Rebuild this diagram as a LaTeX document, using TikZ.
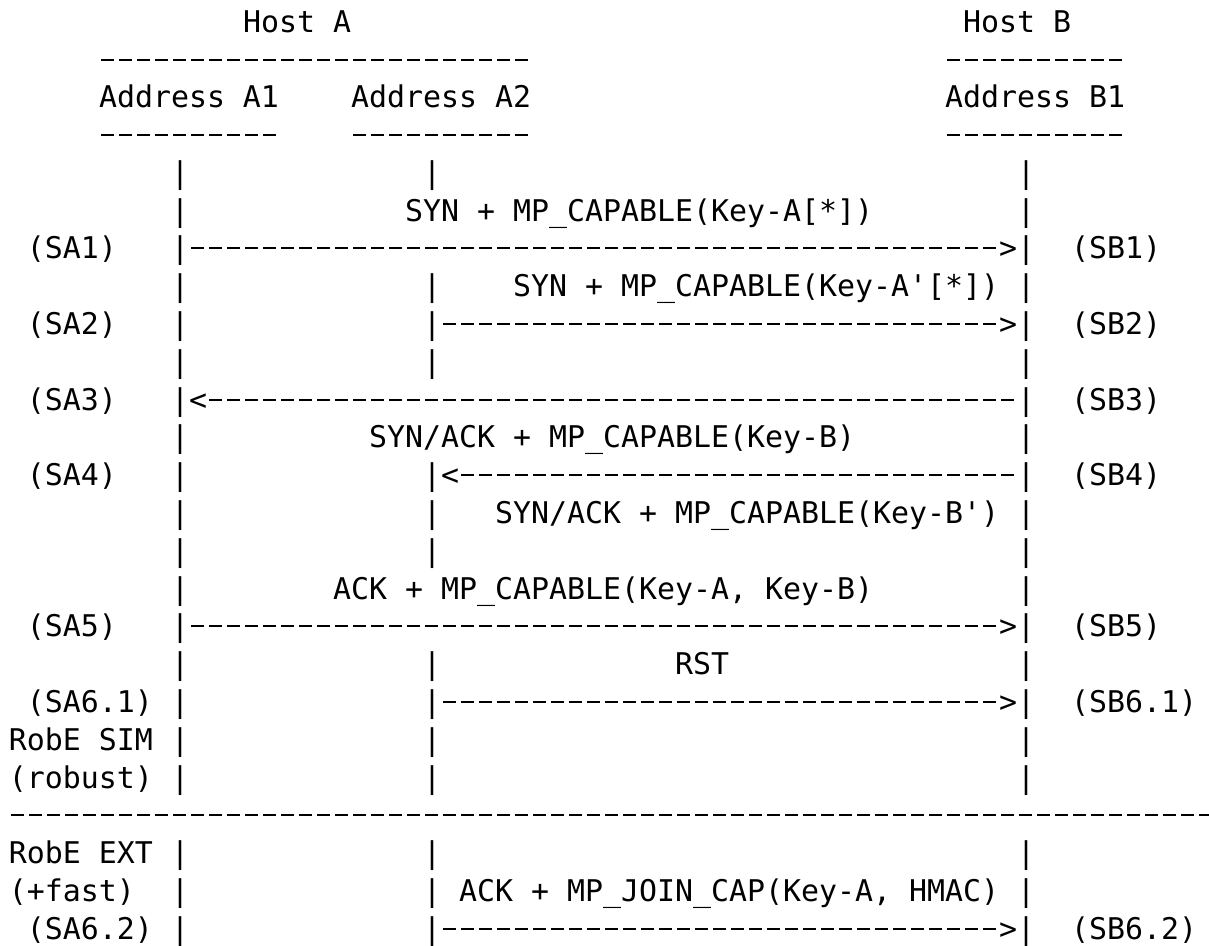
\documentclass[tikz,border=0pt]{standalone}
\usepackage{fontspec}
\newfontfamily\djm{DejaVu Sans Mono}
\newcommand\T[4]{\node[tx] (#1) at ({9+18*(#2)},{32+37.8*(#3-1)}) {#4};}
\newcommand\Bars[2]{\T{a1r#1}{9}{#1}{|}\ifnum#2=1 \T{a2r#1}{23}{#1}{|}\fi\T{br#1}{56}{#1}{|}}
% dashed rule of ASCII dashes, from cell boundary to cell boundary (#3 = y in px)
\newcommand\Rule[3]{\draw[dsh] ({9+18*(#1)},#3) -- ({9+18*(#2)},#3);}
\tikzset{
  tx/.style={anchor=base west, inner sep=0pt, outer sep=0pt, text=black,
    font=\djm\fontsize{29.9}{37.8}\selectfont},
  dsh/.style={draw=black, line width=2pt, dash pattern=on 13pt off 5pt, dash phase=16pt},
}
\begin{document}
\begin{tikzpicture}[x=1pt,y=-1pt]
\fill[white] (0,0) rectangle (1209,945);
\useasboundingbox (0,0) rectangle (1209,945);
\clip (0,0) rectangle (1209,945);
% header
\T{hostA}{13}{1}{Host A}
\T{hostB}{53}{1}{Host B}
\Rule{5}{29}{60}
\Rule{52}{62}{60}
\T{addrA1}{5}{3}{Address A1}
\T{addrA2}{19}{3}{Address A2}
\T{addrB1}{52}{3}{Address B1}
\Rule{5}{15}{135}
\Rule{19}{29}{135}
\Rule{52}{62}{135}
% row 5
\Bars{5}{1}
% row 6
\T{a1r6}{9}{6}{|}
\T{msg1}{22}{6}{SYN + MP\_CAPABLE(Key-A[*])}
\T{br6}{56}{6}{|}
% row 7
\T{sa1}{1}{7}{(SA1)}
\Bars{7}{0}
\T{gt1}{55}{7}{>}
\T{sb1}{59}{7}{(SB1)}
\draw[dsh] (a1r7.base east |- 0,248) -- (gt1.base west |- 0,248);
% row 8
\Bars{8}{1}
\T{msg2}{28}{8}{SYN + MP\_CAPABLE(Key-A'[*])}
% row 9
\T{sa2}{1}{9}{(SA2)}
\Bars{9}{1}
\T{gt2}{55}{9}{>}
\T{sb2}{59}{9}{(SB2)}
\draw[dsh] (a2r9.base east |- 0,324) -- (gt2.base west |- 0,324);
% row 10
\Bars{10}{1}
% row 11
\T{sa3}{1}{11}{(SA3)}
\Bars{11}{0}
\T{lt1}{10}{11}{<}
\T{sb3}{59}{11}{(SB3)}
\draw[dsh] (lt1.base east |- 0,400) -- (br11.base west |- 0,400);
% row 12
\T{a1r12}{9}{12}{|}
\T{msg3}{20}{12}{SYN/ACK + MP\_CAPABLE(Key-B)}
\T{br12}{56}{12}{|}
% row 13
\T{sa4}{1}{13}{(SA4)}
\Bars{13}{1}
\T{lt2}{24}{13}{<}
\T{sb4}{59}{13}{(SB4)}
\draw[dsh] (lt2.base east |- 0,475) -- (br13.base west |- 0,475);
% row 14
\Bars{14}{1}
\T{msg4}{27}{14}{SYN/ACK + MP\_CAPABLE(Key-B')}
% row 15
\Bars{15}{1}
% row 16
\T{a1r16}{9}{16}{|}
\T{msg5}{18}{16}{ACK + MP\_CAPABLE(Key-A, Key-B)}
\T{br16}{56}{16}{|}
% row 17
\T{sa5}{1}{17}{(SA5)}
\Bars{17}{0}
\T{gt3}{55}{17}{>}
\T{sb5}{59}{17}{(SB5)}
\draw[dsh] (a1r17.base east |- 0,626) -- (gt3.base west |- 0,626);
% row 18
\Bars{18}{1}
\T{msg6}{37}{18}{RST}
% row 19
\T{sa61}{1}{19}{(SA6.1)}
\Bars{19}{1}
\T{gt4}{55}{19}{>}
\T{sb61}{59}{19}{(SB6.1)}
\draw[dsh] (a2r19.base east |- 0,702) -- (gt4.base west |- 0,702);
% rows 20-21
\T{sim}{0}{20}{RobE SIM}
\Bars{20}{1}
\T{robust}{0}{21}{(robust)}
\Bars{21}{1}
% separator
\draw[dsh] (9,815) -- (1209,815);
% rows 23-25
\T{ext}{0}{23}{RobE EXT}
\Bars{23}{1}
\T{fast}{0}{24}{(+fast)}
\Bars{24}{1}
\T{msg7}{25}{24}{ACK + MP\_JOIN\_CAP(Key-A, HMAC)}
\T{sa62}{1}{25}{(SA6.2)}
\Bars{25}{1}
\T{gt5}{55}{25}{>}
\T{sb62}{59}{25}{(SB6.2)}
\draw[dsh] (a2r25.base east |- 0,929) -- (gt5.base west |- 0,929);
\end{tikzpicture}
\end{document}
